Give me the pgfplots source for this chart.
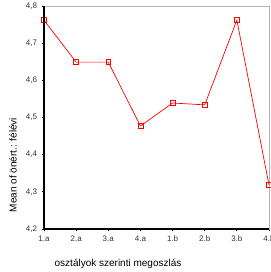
\documentclass[border=0pt]{standalone}
\usepackage{fontspec}
\setmainfont{Liberation Sans}
\usepackage{pgfplots}
\pgfplotsset{compat=1.18}
\begin{document}
\begin{tikzpicture}
\useasboundingbox (0pt,0pt) rectangle (270pt,272pt);
\begin{axis}[
  at={(44pt,43pt)}, anchor=south west,
  scale only axis, width=225pt, height=223pt,
  xmin=0, xmax=7, ymin=4.2, ymax=4.8,
  xtick={0,1,2,3,4,5,6,7},
  xticklabels={1.a,2.a,3.a,4.a,1.b,2.b,3.b,4.b},
  ytick={4.2,4.3,4.4,4.5,4.6,4.7,4.8},
  yticklabel style={/pgf/number format/fixed, /pgf/number format/fixed zerofill, /pgf/number format/precision=1, /pgf/number format/use comma, /pgf/number format/assume math mode=true, xshift=-1pt},
  xtick pos=left, ytick pos=left,
  tick align=outside, major tick length=2.5pt,
  tick style={black, line width=0.8pt},
  axis line style={draw=gray!60, line width=0.6pt},
  ticklabel style={font=\fontsize{8}{9}\selectfont, text=black!80},
  xticklabel style={yshift=-1pt},
  xlabel={osztályok szerinti megoszlás},
  ylabel={Mean of önért.: félévi},
  label style={font=\fontsize{11.5}{13}\selectfont, text=black!85},
  every axis x label/.style={at={(axis description cs:0.329,-0.157)}, anchor=center},
  every axis y label/.style={at={(axis description cs:-0.138,0.287)}, anchor=center, rotate=90},
  clip=false,
  after end axis/.code={
    \draw[black, line width=1.1pt] (rel axis cs:0,1) -- (rel axis cs:0,0) -- (rel axis cs:1,0);
  },
]
\addplot[red, line width=0.7pt, mark=square, mark size=2.4pt, mark options={solid, draw=red, fill=white, line width=0.6pt}]
coordinates {
(0,4.762) (1,4.649) (2,4.649) (3,4.477) (4,4.539) (5,4.534) (6,4.762) (7,4.318)
};
\end{axis}
\end{tikzpicture}
\end{document}
